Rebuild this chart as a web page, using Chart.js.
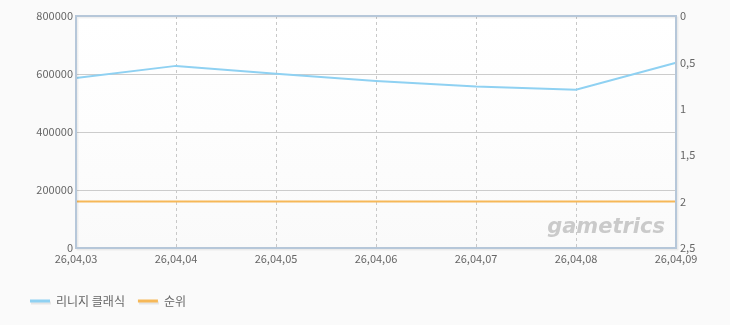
<!DOCTYPE html>
<html>
<head>
<meta charset="utf-8">
<script src="https://cdn.jsdelivr.net/npm/chart.js@4/dist/chart.umd.min.js"></script>
<style>
  html, body { margin: 0; padding: 0; background: #fafafa; }
  #wrap { width: 730px; height: 325px; position: relative; }
</style>
</head>
<body>
<div id="wrap"><canvas id="chart"></canvas></div>
<script>
// data
const dates = ['26,04,03', '26,04,04', '26,04,05', '26,04,06', '26,04,07', '26,04,08', '26,04,09'];
const players = [586000, 628000, 601000, 576000, 557000, 546000, 639000];
const rank = [2, 2, 2, 2, 2, 2, 2];
const seriesNames = ['리니지 클래식', '순위'];
const seriesColors = ['#8fd1f2', '#f6b858'];

const FONT = '"Noto Sans CJK KR", "DejaVu Sans", sans-serif';

// plot background + frame + watermark + legend
const decor = {
  id: 'decor',
  beforeDraw(chart) {
    const { ctx, chartArea: a } = chart;
    const g = ctx.createLinearGradient(0, a.top, 0, a.bottom);
    g.addColorStop(0, '#ffffff');
    g.addColorStop(0.5, '#fdfdfd');
    g.addColorStop(1, '#fafafa');
    ctx.save();
    ctx.fillStyle = g;
    ctx.fillRect(a.left, a.top, a.right - a.left, a.bottom - a.top);
    ctx.restore();
  },
  afterDatasetsDraw(chart) {
    const { ctx, chartArea: a } = chart;
    ctx.save();
    ctx.font = 'italic bold 21px "DejaVu Sans", sans-serif';
    ctx.fillStyle = 'rgba(185,185,185,0.75)';
    ctx.textAlign = 'right';
    ctx.textBaseline = 'alphabetic';
    ctx.fillText('gametrics', a.right - 11, a.bottom - 15);
    ctx.restore();
  },
  afterDraw(chart) {
    const { ctx, chartArea: a } = chart;
    ctx.save();
    ctx.strokeStyle = 'rgba(0,0,0,0.06)';
    ctx.lineWidth = 2;
    ctx.strokeRect(a.left + 1.5, a.top + 1.5, a.right - a.left, a.bottom - a.top);
    ctx.strokeStyle = '#b6c7d9';
    ctx.lineWidth = 2;
    ctx.strokeRect(a.left, a.top, a.right - a.left, a.bottom - a.top);
    // legend
    ctx.font = '12px ' + FONT;
    ctx.textBaseline = 'middle';
    ctx.textAlign = 'left';
    let x = 30;
    const y = 301;
    seriesNames.forEach((name, i) => {
      ctx.strokeStyle = 'rgba(0,0,0,0.08)';
      ctx.lineWidth = 3;
      ctx.beginPath(); ctx.moveTo(x + 1, y + 2); ctx.lineTo(x + 21, y + 2); ctx.stroke();
      ctx.strokeStyle = seriesColors[i];
      ctx.beginPath(); ctx.moveTo(x, y); ctx.lineTo(x + 20, y); ctx.stroke();
      ctx.fillStyle = '#666';
      ctx.fillText(name, x + 26, y);
      x += 26 + ctx.measureText(name).width + 13;
    });
    ctx.restore();
  }
};

new Chart(document.getElementById('chart'), {
  type: 'line',
  data: {
    labels: dates,
    datasets: [
      {
        label: seriesNames[0],
        data: players,
        borderColor: seriesColors[0],
        borderWidth: 2,
        pointRadius: 0,
        tension: 0,
        yAxisID: 'y'
      },
      {
        label: seriesNames[1],
        data: rank,
        borderColor: seriesColors[1],
        borderWidth: 2,
        pointRadius: 0,
        tension: 0,
        yAxisID: 'y1'
      }
    ]
  },
  options: {
    responsive: true,
    maintainAspectRatio: false,
    animation: false,
    layout: { padding: { top: 16, left: 0, right: 0, bottom: 0 } },
    plugins: {
      legend: { display: false },
      tooltip: { enabled: false }
    },
    scales: {
      x: {
        offset: false,
        afterFit(s) { s.height = 77; },
        grid: {
          color: '#c8c8c8',
          drawTicks: false,
          tickBorderDash: [3, 3]
        },
        border: { display: false, dash: [3, 3] },
        ticks: {
          color: '#666',
          font: { family: FONT, size: 11 },
          padding: 4,
          maxRotation: 0,
          autoSkip: false
        }
      },
      y: {
        position: 'left',
        min: 0,
        max: 800000,
        afterFit(s) { s.width = 76; },
        grid: { color: '#cccccc', drawTicks: false },
        border: { display: false },
        ticks: {
          stepSize: 200000,
          color: '#666',
          font: { family: FONT, size: 11 },
          padding: 3,
          callback: v => String(v)
        }
      },
      y1: {
        position: 'right',
        min: 0,
        max: 2.5,
        reverse: true,
        afterFit(s) { s.width = 54; },
        grid: { display: false, drawTicks: false },
        border: { display: false },
        ticks: {
          stepSize: 0.5,
          color: '#666',
          font: { family: FONT, size: 11 },
          padding: 4,
          callback: v => String(v).replace('.', ',')
        }
      }
    }
  },
  plugins: [decor]
});
</script>
</body>
</html>
